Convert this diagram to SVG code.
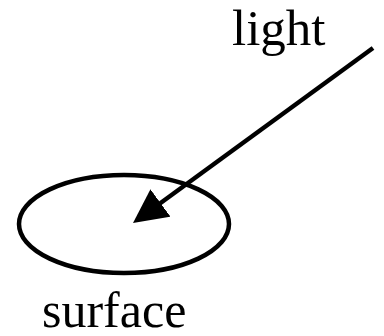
<svg xmlns="http://www.w3.org/2000/svg" width="384" height="336" viewBox="0 0 384 336">
<style>
.lbl{font-family:"Liberation Serif","Times New Roman",serif;font-size:50px;fill:#000}
.ln{stroke:#000;stroke-width:4.5;fill:none}
</style>
<defs>
<marker id="ah" markerUnits="userSpaceOnUse" markerWidth="36" markerHeight="36" refX="34" refY="17" orient="auto" viewBox="0 0 36 36">
<path d="M0,0 L34,17 L0,34 Z" fill="#000"/>
</marker>
</defs>
<rect width="384" height="336" fill="#fff"/>
<g id="surface">
<ellipse cx="124" cy="224" rx="105" ry="49" class="ln"/>
<text class="lbl" x="42" y="327">surface</text>
</g>
<g id="light">
<text class="lbl" x="232" y="45" style="font-size:51px">light</text>
</g>
<g id="connectors">
<line x1="373" y1="48" x2="140" y2="218" class="ln"/>
<line x1="373" y1="48" x2="133" y2="223" stroke="none" marker-end="url(#ah)"/>
</g>
</svg>
